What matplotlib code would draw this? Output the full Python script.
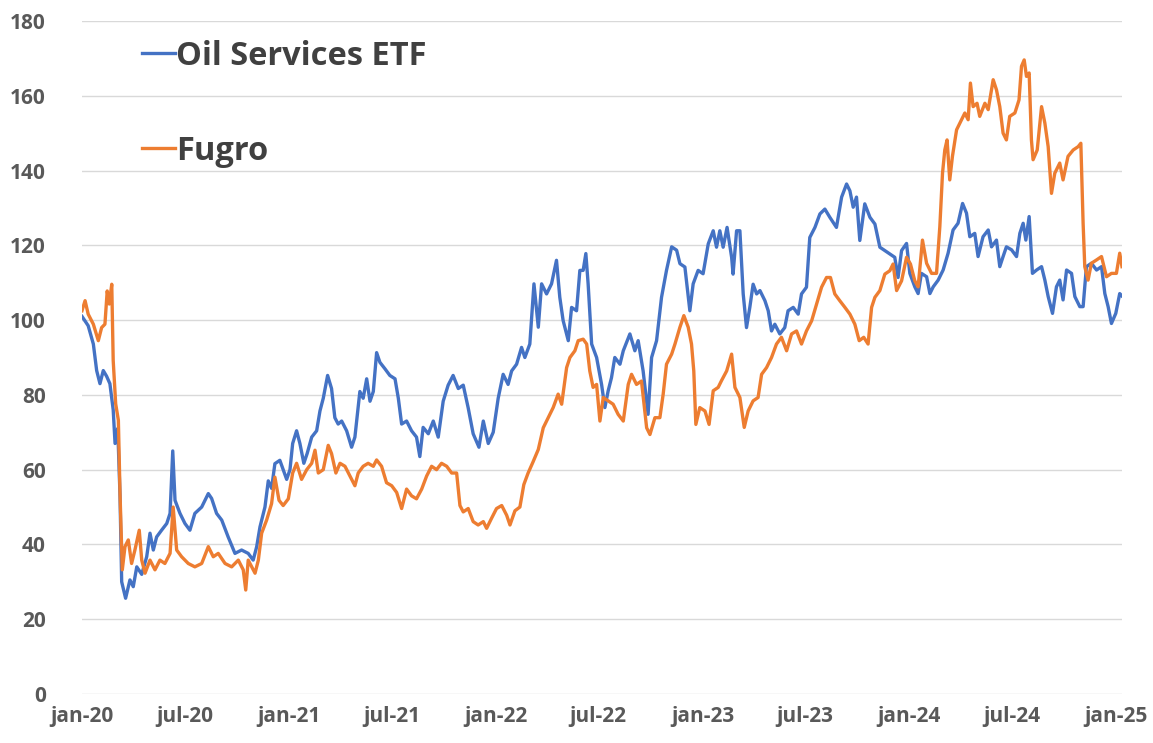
import numpy as np
import pandas as pd
import matplotlib
matplotlib.use('Agg')
import matplotlib.pyplot as plt

plt.rcParams['font.family'] = ['Open Sans', 'DejaVu Sans']

# time in years since 1 Jan 2020, values indexed to 100
etf_t = [0.000, 0.030, 0.055, 0.071, 0.087, 0.103, 0.119, 0.135, 0.151, 0.160,
         0.173, 0.184, 0.192, 0.211, 0.232, 0.248, 0.265, 0.289, 0.313, 0.329,
         0.345, 0.361, 0.385, 0.410, 0.426, 0.439, 0.450, 0.474, 0.498, 0.522,
         0.546, 0.579, 0.611, 0.627, 0.651, 0.676, 0.707, 0.740, 0.772, 0.804,
         0.828, 0.845, 0.861, 0.885, 0.901, 0.917, 0.933, 0.957, 0.973, 0.990,
         1.006, 1.019, 1.038, 1.054, 1.073, 1.089, 1.111, 1.135, 1.151, 1.167,
         1.188, 1.207, 1.223, 1.239, 1.256, 1.280, 1.304, 1.320, 1.344, 1.360,
         1.377, 1.393, 1.409, 1.425, 1.441, 1.465, 1.489, 1.514, 1.530, 1.546,
         1.570, 1.594, 1.618, 1.634, 1.650, 1.675, 1.699, 1.723, 1.747, 1.771,
         1.795, 1.820, 1.844, 1.868, 1.892, 1.920, 1.941, 1.965, 1.989, 2.013,
         2.037, 2.061, 2.078, 2.102, 2.126, 2.142, 2.166, 2.186, 2.207, 2.223,
         2.247, 2.271, 2.295, 2.311, 2.327, 2.352, 2.368, 2.392, 2.408, 2.424,
         2.437, 2.448, 2.465, 2.489, 2.513, 2.529, 2.545, 2.561, 2.577, 2.602,
         2.618, 2.650, 2.674, 2.690, 2.714, 2.738, 2.755, 2.779, 2.803, 2.827,
         2.852, 2.876, 2.892, 2.916, 2.940, 2.956, 2.980, 3.004, 3.029, 3.053,
         3.069, 3.085, 3.101, 3.120, 3.142, 3.149, 3.166, 3.182, 3.198, 3.214,
         3.230, 3.246, 3.263, 3.279, 3.303, 3.319, 3.335, 3.351, 3.375, 3.399,
         3.415, 3.440, 3.464, 3.480, 3.504, 3.520, 3.545, 3.569, 3.593, 3.617,
         3.649, 3.674, 3.698, 3.714, 3.730, 3.746, 3.762, 3.786, 3.811, 3.835,
         3.859, 3.883, 3.907, 3.931, 3.947, 3.964, 3.988, 4.004, 4.028, 4.044,
         4.060, 4.085, 4.101, 4.117, 4.141, 4.165, 4.189, 4.213, 4.237, 4.259,
         4.278, 4.294, 4.318, 4.334, 4.358, 4.383, 4.399, 4.423, 4.439, 4.455,
         4.471, 4.496, 4.520, 4.536, 4.552, 4.565, 4.581, 4.597, 4.617, 4.641,
         4.657, 4.673, 4.694, 4.713, 4.729, 4.745, 4.762, 4.786, 4.802, 4.826,
         4.842, 4.858, 4.882, 4.907, 4.931, 4.947, 4.963, 4.979, 5.000, 5.019,
         5.029]
etf_val = [101, 98.5, 93.6, 86.5, 83, 86.5, 85, 83, 76, 67,
           71, 53, 30, 25.6, 30.5, 28.7, 34, 32, 36.7, 43,
           38.5, 42, 43.8, 45.6, 48.3, 65, 51.8, 48.3, 45.6, 43.8,
           48.3, 50, 53.6, 52.3, 48.3, 46.5, 42, 37.6, 38.5, 37.6,
           35.8, 39.4, 44.7, 50, 57, 55, 61.6, 62.5, 60, 57.4,
           60, 67, 70.4, 67, 61.7, 64.3, 68.7, 70.4, 75.7, 79.1,
           85.2, 81.7, 73.9, 72.2, 73, 70.4, 66, 68.7, 80.9, 79.1,
           84.3, 78.3, 80.9, 91.3, 88.7, 87, 85.2, 84.3, 79.1, 72.2,
           73, 70.4, 68.7, 63.5, 71.3, 69.6, 73, 68.7, 78.3, 82.6,
           85.2, 81.7, 82.6, 76.5, 69.6, 66, 73, 67, 70, 79.1,
           85.5, 82.8, 86.4, 88.2, 92.7, 90, 93.6, 109.7, 98.1, 109.7,
           107, 109.7, 116, 106.1, 99.9, 94.5, 103.4, 102.5, 113.3, 113.3,
           117.8, 109.7, 93.6, 90, 82.8, 76.6, 81.1, 84.6, 90, 88.2,
           91.8, 96.3, 91.8, 94.5, 86.4, 74.8, 90, 94.5, 106.1, 113.3,
           119.6, 118.7, 115.1, 114.2, 102.5, 109.7, 113.3, 112.4, 120.4, 123.9,
           119.5, 123.9, 119.5, 124.8, 116.8, 112.3, 123.9, 123.9, 107, 98,
           103.4, 109.6, 107, 107.9, 105.2, 102.5, 97.1, 98.9, 96.3, 98,
           102.5, 103.4, 101.6, 107, 108.8, 122.1, 124.8, 128.4, 129.7, 127.5,
           124.8, 132.9, 136.4, 134.6, 130.2, 132.9, 121.3, 131.1, 127.5, 125.7,
           119.5, 118.6, 117.7, 116.8, 111.4, 118.6, 120.5, 112.5, 108.9, 107.1,
           112.5, 111.6, 107.1, 108.9, 110.7, 113.4, 117.9, 124.1, 125.9, 131.2,
           128.6, 122.3, 123.2, 117, 122.3, 124.1, 119.6, 121.4, 114.3, 117,
           119.6, 118.8, 117, 123.2, 125.9, 121.4, 127.7, 112.5, 113.4, 114.3,
           110.7, 106.3, 101.8, 108.9, 110.7, 105.4, 113.4, 112.5, 106.3, 103.6,
           103.6, 114.3, 115.2, 113.4, 114.3, 107.1, 103.6, 99.1, 101.8, 107.1,
           106.5]

fugro_t = [0.000, 0.015, 0.030, 0.055, 0.079, 0.095, 0.111, 0.122, 0.132, 0.144,
           0.151, 0.163, 0.176, 0.184, 0.195, 0.208, 0.224, 0.240, 0.256, 0.277,
           0.289, 0.305, 0.329, 0.353, 0.377, 0.401, 0.426, 0.441, 0.458, 0.482,
           0.514, 0.546, 0.579, 0.611, 0.635, 0.659, 0.692, 0.724, 0.756, 0.780,
           0.792, 0.804, 0.821, 0.837, 0.853, 0.869, 0.893, 0.917, 0.933, 0.953,
           0.973, 0.998, 1.019, 1.038, 1.062, 1.087, 1.111, 1.127, 1.143, 1.167,
           1.191, 1.207, 1.228, 1.248, 1.272, 1.296, 1.320, 1.336, 1.360, 1.384,
           1.409, 1.425, 1.449, 1.473, 1.498, 1.522, 1.546, 1.570, 1.594, 1.618,
           1.643, 1.667, 1.691, 1.715, 1.739, 1.764, 1.788, 1.812, 1.828, 1.844,
           1.868, 1.892, 1.916, 1.941, 1.957, 1.981, 2.005, 2.030, 2.054, 2.070,
           2.094, 2.118, 2.137, 2.157, 2.181, 2.207, 2.231, 2.255, 2.279, 2.303,
           2.320, 2.344, 2.360, 2.384, 2.400, 2.424, 2.441, 2.456, 2.472, 2.489,
           2.505, 2.521, 2.545, 2.569, 2.593, 2.618, 2.642, 2.658, 2.682, 2.706,
           2.731, 2.747, 2.771, 2.795, 2.811, 2.827, 2.852, 2.868, 2.892, 2.911,
           2.932, 2.948, 2.959, 2.969, 2.988, 3.013, 3.033, 3.053, 3.077, 3.093,
           3.118, 3.142, 3.158, 3.182, 3.203, 3.222, 3.246, 3.270, 3.287, 3.311,
           3.335, 3.359, 3.383, 3.408, 3.432, 3.456, 3.480, 3.504, 3.529, 3.553,
           3.577, 3.601, 3.620, 3.641, 3.665, 3.690, 3.714, 3.738, 3.759, 3.781,
           3.802, 3.819, 3.835, 3.859, 3.883, 3.907, 3.923, 3.940, 3.964, 3.988,
           4.007, 4.028, 4.044, 4.065, 4.085, 4.109, 4.133, 4.149, 4.162, 4.173,
           4.184, 4.197, 4.210, 4.230, 4.246, 4.270, 4.286, 4.297, 4.310, 4.329,
           4.342, 4.367, 4.383, 4.407, 4.423, 4.439, 4.455, 4.471, 4.487, 4.512,
           4.532, 4.544, 4.557, 4.568, 4.581, 4.592, 4.600, 4.620, 4.641, 4.657,
           4.673, 4.689, 4.705, 4.729, 4.745, 4.769, 4.794, 4.818, 4.831, 4.842,
           4.850, 4.866, 4.882, 4.907, 4.931, 4.955, 4.979, 5.003, 5.019, 5.030]
fugro_val = [102.5, 105.2, 101.6, 98.9, 94.5, 98, 98.9, 107.8, 104.3, 109.6,
             89.2, 77.6, 73.2, 53.6, 33.2, 39.4, 41.2, 34.9, 38.5, 43.8,
             35.8, 32.3, 35.8, 33.2, 35.8, 34.9, 37.6, 50, 38.5, 36.7,
             34.9, 34, 34.9, 39.4, 36.7, 37.6, 34.9, 34, 35.8, 33.2,
             27.8, 35.8, 34, 32.3, 35.8, 43, 46.5, 50.9, 58, 51.8,
             50.4, 52.2, 59.1, 61.7, 57.4, 60, 61.7, 65.2, 59.1, 60,
             66.5, 64.3, 59.1, 61.7, 60.9, 58.3, 55.7, 59.1, 60.9, 61.7,
             60.9, 62.6, 60.9, 56.5, 55.7, 53.9, 49.6, 54.8, 53, 52.2,
             54.8, 58.3, 60.9, 60, 61.7, 60.9, 59.1, 59.1, 50.4, 48.7,
             49.6, 46.1, 45.2, 46.1, 44.3, 47, 49.6, 50.4, 47.8, 45.2,
             49, 50, 56, 59, 62, 65.4, 71.2, 73.9, 76.6, 80.2,
             77.5, 87.3, 90, 91.8, 94.5, 94.9, 93.6, 86.4, 82, 82.8,
             73, 79.3, 78.4, 77.5, 74.8, 73, 82.8, 85.5, 82.8, 83.7,
             71.2, 69.4, 73.9, 73.9, 80.2, 88.2, 90.9, 93.6, 98.1, 101.2,
             98.1, 93.6, 86.4, 72.1, 76.6, 75.7, 72.1, 81.1, 82, 83.8,
             86.4, 90.9, 82, 79.3, 71.3, 75.7, 78.4, 79.3, 85.5, 87.3,
             90, 93.6, 95.4, 91.8, 96.3, 97.1, 93.6, 97.1, 99.8, 104.3,
             108.8, 111.4, 111.4, 107, 105.2, 103.4, 101.6, 98.9, 94.5, 95.4,
             93.6, 103.4, 106.1, 107.9, 112.3, 113.2, 115, 107.9, 110.5, 116.8,
             115, 110.5, 108.9, 121.4, 115.2, 112.5, 112.5, 125, 139.3, 145.5,
             148.2, 137.5, 143.8, 150.9, 152.7, 155.4, 153.6, 163.4, 157.1, 158,
             154.5, 158, 156.3, 164.3, 161.6, 157.1, 150, 148.2, 154.5, 155.4,
             158.9, 167.9, 169.6, 165.2, 166.1, 148.2, 142.9, 145.5, 157.1, 152.7,
             146.4, 133.9, 139.3, 142, 137.5, 143.8, 145.5, 146.4, 147.3, 125.9,
             114.3, 110.7, 115.2, 116.1, 117, 111.6, 112.5, 112.5, 117.9, 114.3]

tick_labels = ['jan-20', 'jul-20', 'jan-21', 'jul-21', 'jan-22', 'jul-22',
               'jan-23', 'jul-23', 'jan-24', 'jul-24', 'jan-25']

start = pd.Timestamp('2020-01-01')


def to_dates(t):
    return start + pd.to_timedelta(np.array(t) * 365.25, unit='D')


etf_dates = to_dates(etf_t)
fugro_dates = to_dates(fugro_t)
tick_dates = pd.date_range('2020-01-01', periods=len(tick_labels), freq='6MS')

text_col = '#595959'

fig = plt.figure(figsize=(11.53, 7.43), dpi=100)
ax = fig.add_axes([0.0711, 0.066, 0.902, 0.9057])

ax.plot(etf_dates, etf_val, color='#4472C4', lw=2.4, label='Oil Services ETF')
ax.plot(fugro_dates, fugro_val, color='#ED7D31', lw=2.4, label='Fugro')

ax.set_ylim(0, 180)
ax.set_yticks(np.arange(0, 181, 20))
ax.set_xlim(start, to_dates([5.03])[0])
ax.set_xticks(tick_dates)
ax.set_xticklabels(tick_labels)

ax.grid(axis='y', color='#D9D9D9', lw=1)
ax.set_axisbelow(True)
for s in ax.spines.values():
    s.set_visible(False)
ax.tick_params(length=0, labelsize=15, labelcolor=text_col)
ax.tick_params(axis='y', pad=26)
ax.tick_params(axis='x', pad=9)
for lab in ax.get_xticklabels() + ax.get_yticklabels():
    lab.set_fontweight('bold')

leg = ax.legend(loc='upper left', bbox_to_anchor=(0.0577, 0.972), frameon=False,
                fontsize=23.5, handlelength=1.0, handletextpad=0.05,
                labelspacing=1.9, borderpad=0, borderaxespad=0)
for txt in leg.get_texts():
    txt.set_color('#404040')
    txt.set_fontweight('bold')

fig.savefig('out.png', dpi=100)
